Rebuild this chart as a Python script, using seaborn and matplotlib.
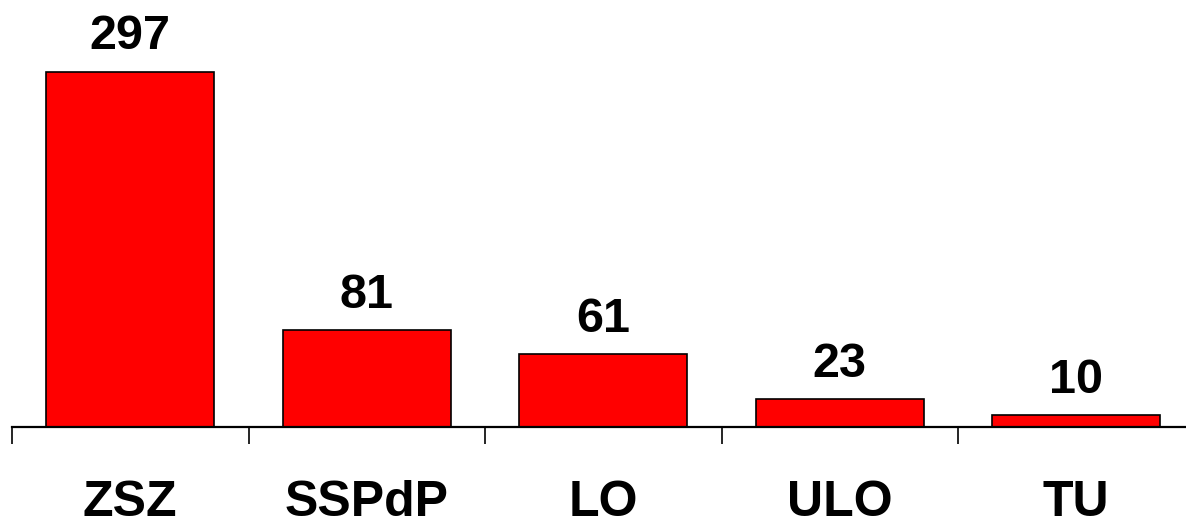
import matplotlib
matplotlib.use("Agg")
import matplotlib.pyplot as plt
import seaborn as sns
import pandas as pd

# Datos del gráfico
categorias = ["ZSZ", "SSPdP", "LO", "ULO", "TU"]
valores = [297, 81, 61, 23, 10]

df = pd.DataFrame({"categoria": categorias, "valor": valores})

sns.set_theme(style="white")
plt.rcParams["font.family"] = ["Liberation Sans", "DejaVu Sans"]
plt.rcParams["text.color"] = "black"
plt.rcParams["xtick.color"] = "black"
plt.rcParams["xtick.labelcolor"] = "black"

fig = plt.figure(figsize=(11.86, 5.19), dpi=100)
ax = fig.add_axes([12 / 1186, 1 - 427 / 519, 1182.5 / 1186, 427 / 519])

sns.barplot(data=df, x="categoria", y="valor", color="#ff0000", saturation=1,
            edgecolor="black", linewidth=1.2, width=0.71, ax=ax)

ax.set_xlim(-0.5, len(categorias) - 0.5)
ax.set_ylim(0, 357)

# Etiquetas de valores encima de las barras
for cont in ax.containers:
    ax.bar_label(cont, labels=[str(v) for v in valores], padding=9,
                 fontsize=35, fontweight="bold", color="black")

# Ejes: solo la línea inferior con marcas entre categorías
for s in ["top", "left", "right"]:
    ax.spines[s].set_visible(False)
ax.spines["bottom"].set_linewidth(1.6)
ax.spines["bottom"].set_color("black")
ax.set_yticks([])
ax.set_xlabel("")
ax.set_ylabel("")

ax.set_xticks(range(len(categorias)))
ax.set_xticklabels(categorias, fontsize=36, fontweight="bold", color="black")
ax.tick_params(axis="x", which="major", length=0, pad=38)
ax.set_xticks([i - 0.5 for i in range(len(categorias) + 1)], minor=True)
ax.tick_params(axis="x", which="minor", length=12, width=1.2, color="black",
               direction="out", bottom=True)

fig.savefig("out.png", dpi=100)
plt.close(fig)
